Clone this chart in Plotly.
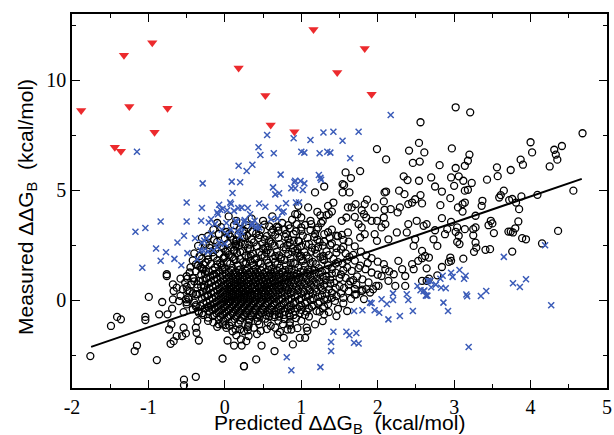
import plotly.graph_objects as go

# ---------------- data ----------------
# red down-triangles
tri_x = [-1.88, -1.32, -1.25, -0.95, -0.75, -0.92, -1.44, -1.36, 0.18, 0.53,
         0.60, 0.91, 1.16, 1.83, 1.47, 1.92]
tri_y = [8.61, 11.12, 8.79, 11.69, 8.72, 7.62, 6.94, 6.76, 10.54, 9.29,
         7.96, 7.65, 12.29, 11.43, 10.34, 9.35]

# blue crosses (x, y)
crosses = [
    (-1.15, 6.74), (-0.29, 5.30), (-0.50, 4.43), (-0.30, 4.18), (-0.075, 4.33), (0.09, 5.38),
    (0.20, 5.35), (0.10, 4.86), (0.18, 6.10), (0.285, 5.86), (0.36, 6.15), (0.44, 6.94),
    (0.465, 6.59), (0.553, 7.50), (0.64, 6.67), (0.73, 5.70), (0.63, 5.12), (0.66, 4.80),
    (0.71, 4.85), (0.90, 7.35), (1.00, 6.74), (1.12, 7.27), (0.87, 5.08), (0.91, 5.35),
    (0.99, 5.41), (1.02, 5.00), (1.23, 5.68), (1.24, 6.67), (0.30, 4.18), (0.45, 4.39),
    (0.53, 4.24), (0.80, 4.40), (0.70, 4.18), (0.12, 4.05), (0.07, 4.43), (-0.03, 4.15),
    (1.29, 7.61), (1.34, 6.74), (1.38, 6.70), (1.26, 5.47), (0.92, 5.08), (0.92, 5.42),
    (-0.50, 3.57), (-0.84, 3.57), (-1.04, 3.27), (-0.31, 3.60), (-0.18, 3.67), (-0.06, 4.10),
    (-0.09, 3.90), (0.03, 4.08), (0.175, 4.18), (0.14, 3.60), (0.33, 3.90), (0.39, 3.60),
    (0.35, 3.40), (0.41, 3.30), (0.605, 3.67), (0.69, 3.70), (0.77, 4.02), (0.97, 4.43),
    (0.02, 3.50), (-0.04, 3.20), (-1.17, 3.10), (-0.62, 2.61), (-0.535, 2.92), (-0.90, 2.34),
    (-0.77, 2.17), (-0.84, 1.78), (-0.66, 1.87), (-1.08, 1.47), (-0.49, 2.13), (-0.39, 2.81),
    (-0.32, 2.26), (-0.30, 2.60), (-0.27, 2.70), (-0.24, 2.80), (-0.18, 3.02), (-0.21, 3.52),
    (-0.13, 3.45), (-0.10, 3.98), (0.08, 4.36), (0.15, 3.55), (-0.36, 1.85), (-0.57, 1.58),
    (-0.28, 2.25), (-0.22, 2.20), (-0.15, 2.25), (-0.10, 2.40), (-0.075, 2.61), (0.00, 2.55),
    (0.03, 3.00), (0.08, 3.20), (0.17, 3.10), (0.21, 3.30), (0.25, 3.55), (0.22, 4.20),
    (0.26, 3.63), (0.36, 3.50), (0.45, 3.30), (0.75, 3.98), (0.22, 3.10), (0.20, 2.90),
    (0.93, 4.43),
    (1.42, -1.44), (1.59, -1.44), (1.63, -1.60), (1.72, -1.50), (1.39, -1.91), (1.69, -1.94),
    (1.75, -1.98), (1.39, -2.32), (0.81, -2.60), (0.87, -3.19), (1.25, -3.05), (1.69, -0.50),
    (1.80, -0.47), (1.90, -0.12), (1.92, -0.15), (1.96, -0.47), (2.02, -0.58), (2.05, 0.03),
    (2.12, -0.18), (2.14, -0.88), (2.20, 0.00), (2.29, -0.73), (2.38, 0.26), (2.40, 0.00),
    (2.46, -0.50), (2.52, 0.64), (2.56, 0.44), (2.61, 0.43), (2.65, 0.20), (2.70, 0.58),
    (2.20, 0.30), (4.19, 2.49), (3.65, 1.96), (2.66, 0.87), (2.69, 0.86), (2.76, 0.70),
    (2.60, 0.40), (2.63, 0.20), (2.82, 0.97), (2.85, 1.10), (2.96, 1.24), (2.98, 1.05),
    (3.07, 1.36), (3.13, 0.97), (3.15, 1.10), (2.83, 0.56), (2.89, 0.53), (2.86, -0.12),
    (2.92, -0.50), (3.16, 0.25), (3.17, 0.17), (3.35, 0.18), (3.42, 0.41), (3.77, 0.76),
    (3.86, 0.59), (3.94, 0.94), (4.27, -0.24), (3.19, -2.14),
    (2.17, 8.41), (1.42, 7.65), (1.75, 7.65), (1.54, 7.24), (1.64, 6.44), (1.04, 6.70),
    (1.25, 5.55), (1.04, 5.30),
]

# black open circles, scattered ones (x, y)
circles_outer = [
    (3.02, 8.76), (3.21, 8.53), (2.56, 8.08), (4.68, 7.58), (4.00, 7.17), (4.02, 6.71),
    (4.31, 6.83), (4.33, 6.61), (4.35, 6.38), (4.41, 7.00), (4.25, 6.07), (1.99, 6.86),
    (2.11, 6.39), (2.41, 6.79), (2.54, 7.14), (2.61, 6.71), (2.46, 6.23), (2.55, 6.29),
    (2.97, 6.89), (3.02, 6.00), (2.81, 6.13), (3.20, 6.61), (3.18, 6.33), (3.14, 6.10),
    (3.56, 6.03), (3.57, 5.63), (3.74, 5.91), (3.87, 6.38), (3.90, 6.15), (4.56, 4.97),
    (4.09, 4.78), (3.65, 4.97), (3.61, 4.77), (3.59, 4.66), (3.72, 4.54), (3.81, 4.43),
    (3.88, 4.71), (3.43, 5.47), (3.37, 4.51), (3.36, 4.28), (1.18, 4.89), (1.30, 5.16),
    (1.54, 5.27), (1.56, 5.22), (1.65, 5.54), (1.58, 5.80), (1.54, 4.89), (1.63, 4.89),
    (1.77, 5.86), (1.86, 4.56), (1.83, 4.36), (2.09, 4.89), (2.11, 4.93), (2.08, 4.48),
    (2.28, 4.97), (2.34, 5.62), (2.39, 5.45), (2.35, 4.81), (2.54, 5.42), (2.56, 4.77),
    (2.49, 4.58), (2.45, 4.43), (2.40, 4.36), (2.70, 5.57), (2.75, 5.16), (2.84, 4.93),
    (2.96, 5.57), (3.06, 5.62), (3.00, 5.19), (3.12, 5.42), (3.14, 4.97), (3.18, 5.01),
    (3.23, 5.32), (2.95, 4.63), (3.14, 4.43), (3.11, 4.36), (2.82, 4.31), (1.09, 4.21),
    (1.35, 4.28), (1.42, 4.43), (1.61, 4.21), (1.66, 4.21), (1.71, 4.36), (1.96, 4.21),
    (2.09, 4.10),
    (3.11, 4.02), (2.84, 3.72), (2.96, 3.55), (3.04, 3.30), (3.02, 3.10), (3.06, 2.92),
    (3.04, 2.64), (3.07, 2.54), (3.14, 3.22), (3.28, 3.83), (3.25, 3.22), (3.28, 3.30),
    (3.25, 2.94), (3.28, 2.61), (3.29, 2.38), (3.26, 2.19), (3.41, 2.28), (3.47, 2.31),
    (3.45, 3.40), (3.48, 3.60), (3.50, 3.48), (3.52, 3.04), (3.71, 3.11), (3.74, 3.11),
    (3.77, 3.07), (3.84, 3.57), (3.80, 3.26), (3.89, 2.81), (3.94, 2.76), (3.76, 2.20),
    (4.15, 2.57), (4.36, 3.14), (2.91, 3.22), (2.88, 2.99), (2.75, 3.17), (2.78, 2.46),
    (2.73, 2.76), (2.60, 3.37), (2.58, 2.23), (2.62, 2.00), (2.67, 1.93), (2.58, 1.90),
    (2.95, 1.93), (2.96, 1.78), (2.93, 1.73), (3.12, 1.88), (2.84, 1.50), (2.64, 1.44),
    (2.78, 1.12), (2.67, 0.97), (2.58, 0.87), (3.76, 4.59), (3.85, 4.13), (3.05, 4.21),
    (1.21, 4.01), (1.33, 3.86), (1.36, 3.90), (1.40, 4.02), (1.28, 3.60), (1.79, 4.08),
    (1.82, 3.90), (2.26, 3.98), (2.08, 3.75), (2.10, 3.45), (2.05, 3.30), (1.99, 3.60),
    (1.92, 3.60), (1.85, 3.75), (1.75, 3.45), (1.70, 3.78), (1.59, 3.75), (1.53, 3.60),
    (1.61, 3.07), (1.53, 2.96), (1.46, 2.92), (1.79, 3.30), (1.83, 2.99), (1.77, 2.84),
    (1.96, 2.99), (1.99, 2.69), (2.14, 2.76), (2.25, 3.07), (2.38, 3.07), (2.40, 3.45),
    (2.51, 3.60), (2.64, 3.45), (2.49, 2.76), (2.47, 2.46), (2.53, 1.78), (2.45, 1.63),
    (2.47, 1.40), (2.64, 0.87), (2.36, 1.09), (2.32, 1.40), (2.27, 1.78), (2.36, 0.64),
    (2.23, 0.64), (2.14, 0.87), (2.21, 1.17), (2.10, 1.40), (2.05, 1.09), (2.01, 0.64),
    (1.94, 0.49), (1.85, 0.49), (1.79, 0.41), (1.72, 0.26), (1.60, -0.50), (1.46, -0.73),
    (1.30, -0.65), (1.28, -0.96), (1.18, -1.11), (1.07, -1.26), (1.05, -1.72), (0.87, -1.34),
    (0.89, -2.02), (0.77, -1.72), (0.69, -1.57), (0.65, -2.32), (0.48, -2.07), (0.41, -2.70),
    (0.25, -3.01), (0.98, -1.72), (0.28, -1.87), (2.58, 4.39), (2.29, 4.21), (2.17, 4.13),
    (-1.76, -2.55), (-1.49, -1.18), (-1.41, -0.77), (-1.36, -0.88), (-1.18, -2.32),
    (-1.15, -2.07), (-1.04, -0.77), (-1.04, -0.91), (-0.995, 0.14), (-0.89, -2.73),
    (-0.86, -0.65), (-0.82, -0.09), (-0.75, -0.65), (-0.73, -1.34), (-0.70, -1.11),
    (-0.71, -1.99), (-0.67, -1.87), (-0.63, -1.64), (-0.69, -0.39), (-0.68, 0.03),
    (-0.67, 0.41), (-0.63, 0.56), (-0.68, 0.71), (-0.76, 1.17), (-0.76, 1.09), (-0.58, 0.97),
    (-0.49, 0.97), (-0.49, 0.44), (-0.51, 0.03), (-0.47, 0.03), (-0.54, -0.55), (-0.54, -1.26),
    (-0.51, -1.52), (-0.56, -1.64), (-0.535, -3.62), (-0.535, -3.87), (-0.38, -3.49),
    (-0.34, -1.84), (-0.37, -1.49), (-0.38, -1.26), (-0.36, -0.96), (-0.34, -0.58),
    (-0.38, -0.23), (-0.36, 0.26), (-0.36, 0.71), (-0.41, 0.99), (-0.32, 1.50), (-0.28, 1.62),
    (-0.25, 1.32), (-0.24, 0.99), (-0.27, 0.56), (-0.23, 0.18), (-0.21, -0.35), (-0.16, -0.73),
    (0.035, -1.84), (-0.03, -2.66), (0.12, -2.07), (0.22, -2.07), (0.25, -3.01), (-0.03, -1.11),
    (0.01, -1.14), (0.14, -1.34), (0.25, -1.41), (-0.01, 1.93), (0.035, 2.23), (0.12, 2.23),
    (0.145, 2.54), (0.21, 2.61), (-0.10, 1.62), (-0.03, 1.47), (-0.14, 1.17), (0.255, 2.84),
    (0.30, -1.38), (0.31, -1.64), (0.21, -1.79), (0.82, -1.34), (1.08, -1.40),
    (0.96, 4.28), (0.92, 3.90), (1.00, 3.75), (1.13, 3.45), (1.26, 3.50), (0.70, 3.30),
    (0.83, 3.40), (0.94, 3.45), (0.35, 3.70), (0.50, 3.60), (0.62, 3.80), (0.75, 3.50),
    (0.88, 3.65), (1.00, 3.30), (1.12, 3.60), (1.20, 3.20), (0.28, 3.40), (0.42, 3.30),
    (0.58, 3.35), (0.70, 3.15), (0.95, 3.90), (1.25, 3.85), (0.15, 3.60), (0.05, 3.80),
    (-0.10, 3.50),
]

# black open circles, crowded halo round the centre (x, y)
circles_halo = [
    (-0.05, 3.31), (0.12, 3.40), (0.30, 3.28), (0.52, 3.43), (0.68, 3.33), (0.85, 3.26), (1.05, 3.41), (1.22, 3.30),
    (-0.15, 3.20), (0.02, 3.09), (0.20, 3.22), (0.36, 3.11), (0.47, 3.19), (0.61, 3.07), (0.78, 3.21), (0.93, 3.12),
    (1.12, 3.18), (1.35, 3.08),
    (-0.22, 2.91), (-0.08, 3.00), (0.07, 2.88), (0.18, 2.99), (0.29, 2.92), (0.41, 3.02), (0.55, 2.90), (0.66, 2.97),
    (0.79, 2.87), (0.90, 3.00), (1.02, 2.93), (1.17, 2.86), (1.30, 2.99), (1.48, 2.90),
    (-0.30, 2.82), (-0.14, 2.72), (0.00, 2.80), (0.11, 2.74), (0.23, 2.84), (0.35, 2.75), (0.44, 2.81), (0.58, 2.71),
    (0.70, 2.83), (0.83, 2.76), (0.96, 2.70), (1.08, 2.82), (1.21, 2.75), (1.37, 2.84), (1.55, 2.73),
    (-0.25, 2.55), (-0.10, 2.64), (0.04, 2.57), (0.15, 2.66), (0.26, 2.53), (0.38, 2.62), (0.49, 2.56), (0.60, 2.65),
    (0.72, 2.54), (0.85, 2.61), (0.97, 2.67), (1.10, 2.55), (1.24, 2.63), (1.40, 2.57), (1.62, 2.65),
    (-0.35, 2.46), (-0.20, 2.37), (-0.05, 2.45), (0.08, 2.39), (0.19, 2.48), (0.30, 2.36), (0.42, 2.44), (0.53, 2.38),
    (0.65, 2.47), (0.77, 2.40), (0.89, 2.35), (1.00, 2.45), (1.14, 2.38), (1.28, 2.47), (1.46, 2.36), (1.70, 2.44),
    (-0.28, 2.21), (-0.12, 2.30), (0.01, 2.20), (0.12, 2.28), (0.23, 2.22), (0.33, 2.31), (0.45, 2.19), (0.56, 2.27),
    (0.68, 2.20), (0.80, 2.30), (0.92, 2.24), (1.04, 2.18), (1.18, 2.29), (1.33, 2.21), (1.52, 2.30), (1.78, 2.20),
    (-0.40, 2.12), (-0.22, 2.03), (-0.07, 2.11), (0.05, 2.04), (0.16, 2.13), (0.27, 2.02), (0.37, 2.10), (0.48, 2.05),
    (0.60, 2.14), (0.71, 2.03), (0.83, 2.09), (0.95, 2.13), (1.07, 2.02), (1.20, 2.11), (1.36, 2.04), (1.58, 2.12),
    (1.85, 2.03),
    (-0.30, 1.88), (-0.15, 1.97), (-0.02, 1.89), (0.10, 1.95), (0.20, 1.87), (0.31, 1.96), (0.41, 1.90), (0.52, 1.98),
    (0.63, 1.87), (0.74, 1.94), (0.86, 1.89), (0.98, 1.97), (1.10, 1.88), (1.25, 1.95), (1.42, 1.87), (1.63, 1.96),
    (1.92, 1.90),
    (-0.42, 1.80), (-0.25, 1.71), (-0.10, 1.79), (0.03, 1.73), (0.14, 1.81), (0.24, 1.72), (0.34, 1.78), (0.44, 1.70),
    (0.55, 1.80), (0.66, 1.74), (0.78, 1.82), (0.90, 1.71), (1.02, 1.78), (1.15, 1.73), (1.30, 1.81), (1.48, 1.72),
    (1.70, 1.79), (2.00, 1.74),
    (-0.35, 1.56), (-0.18, 1.64), (-0.04, 1.57), (0.07, 1.65), (0.17, 1.55), (0.27, 1.63), (0.37, 1.58), (0.47, 1.66),
    (0.58, 1.56), (0.69, 1.62), (0.80, 1.57), (0.92, 1.65), (1.05, 1.55), (1.19, 1.63), (1.35, 1.58), (1.54, 1.66),
    (1.77, 1.56), (2.08, 1.63),
    (-0.45, 1.48), (-0.28, 1.40), (-0.13, 1.47), (0.00, 1.41), (0.10, 1.46), (0.20, 1.39), (0.30, 1.45), (0.40, 1.42),
    (0.50, 1.48), (0.61, 1.40), (0.72, 1.46), (0.84, 1.41), (0.96, 1.47), (1.09, 1.39), (1.23, 1.45), (1.40, 1.41),
    (1.60, 1.48), (1.84, 1.40),
    (-0.38, 1.31), (1.45, 1.24), (1.66, 1.32), (1.92, 1.25), (2.15, 1.30),
    (-0.50, 1.08), (-0.31, 1.16), (1.33, 1.09), (1.52, 1.16), (1.73, 1.07), (2.00, 1.15),
    (-0.42, 1.00), (1.38, 0.93), (1.58, 1.01), (1.80, 0.94),
    (-0.52, 0.79), (-0.34, 0.86), (1.43, 0.78), (1.64, 0.85), (1.88, 0.80),
    (-0.44, 0.71), (1.50, 0.63), (1.72, 0.70), (1.98, 0.64),
    (-0.55, 0.49), (-0.36, 0.56), (1.36, 0.48), (1.56, 0.55), (1.80, 0.47),
    (-0.46, 0.41), (1.40, 0.33), (1.62, 0.40), (1.90, 0.34),
    (-0.58, 0.19), (-0.38, 0.26), (1.46, 0.18), (1.70, 0.25),
    (-0.48, 0.11), (1.34, 0.03), (1.55, 0.10), (1.82, 0.04),
    (-0.60, -0.05), (-0.40, -0.12), (1.44, -0.04),
    (-0.50, -0.20), (-0.32, -0.27), (1.35, -0.19),
    (-0.42, -0.42), (-0.35, -0.50),
    (-0.22, -0.80), (-0.08, -0.88), (0.03, -0.79), (0.13, -0.86), (0.22, -0.81), (0.32, -0.89), (0.42, -0.80),
    (0.53, -0.85), (0.65, -0.78), (0.78, -0.87), (0.93, -0.82),
    (-0.15, -1.02), (-0.02, -0.94), (0.09, -1.00), (0.20, -0.93), (0.31, -1.03), (0.43, -0.96), (0.56, -1.01),
    (0.70, -0.94), (0.85, -1.00),
    (-0.08, -1.10), (0.06, -1.17), (0.18, -1.09), (0.31, -1.16), (0.45, -1.11), (0.60, -1.18), (0.76, -1.10),
    (0.02, -1.27), (0.20, -1.33), (0.38, -1.26), (0.55, -1.32),
    # second layer of the halo
    (-0.20, 2.50), (-0.02, 2.35), (0.14, 2.47), (0.32, 2.52), (0.50, 2.33), (0.62, 2.56), (0.82, 2.50),
    (0.95, 2.32), (1.06, 2.52), (1.22, 2.40), (1.38, 2.50), (1.55, 2.42),
    (-0.33, 2.00), (-0.16, 2.17), (0.00, 1.98), (0.20, 2.18), (0.34, 2.02), (0.54, 2.16), (0.66, 1.99),
    (0.88, 2.19), (1.00, 2.00), (1.13, 2.20), (1.29, 2.00), (1.46, 2.15), (1.68, 2.05),
    (-0.38, 1.62), (-0.22, 1.84), (-0.06, 1.68), (0.12, 1.86), (0.28, 1.70), (0.39, 1.85), (0.57, 1.69),
    (0.73, 1.86), (0.86, 1.68), (1.00, 1.85), (1.12, 1.67), (1.28, 1.86), (1.45, 1.66), (1.60, 1.82), (1.87, 1.68),
    (-0.30, 1.42), (-0.46, 1.25), (1.55, 1.35), (1.75, 1.45), (1.50, 1.00), (1.68, 0.90), (1.62, 0.70),
    (1.45, 0.55), (1.70, 0.50), (1.52, 0.30), (1.65, 0.05), (1.40, 0.10), (1.55, -0.15), (1.30, -0.30),
    (1.48, -0.40), (1.20, -0.50), (1.36, -0.55),
    (-0.40, 0.85), (-0.50, 0.60), (-0.42, 0.30), (-0.50, -0.10), (-0.38, -0.30), (-0.30, -0.60), (-0.22, -0.95),
    (-0.10, -1.22), (0.10, -1.42), (0.30, -1.23), (0.47, -1.40), (0.66, -1.26), (0.85, -1.15), (1.00, -0.95),
    (1.10, -0.75), (0.95, -1.28), (0.72, -1.45), (0.15, -1.60), (0.42, -1.55),
    (0.05, 3.00), (0.25, 3.15), (0.45, 2.95), (0.63, 3.20), (0.80, 3.00), (1.00, 3.15), (1.18, 3.00),
    (1.40, 3.20), (0.15, 2.70), (0.52, 2.75), (0.90, 2.70), (1.30, 2.65),
]

# black open circles, solid-black centre: one y level per row with the x values in that row
dense_y = [1.36, 1.28, 1.20, 1.12, 1.05, 0.97, 0.90, 0.82, 0.75, 0.67, 0.60, 0.52, 0.45,
           0.37, 0.30, 0.22, 0.15, 0.07, 0.00, -0.08, -0.15, -0.23, -0.30, -0.38, -0.45,
           -0.53, -0.60, -0.68, -0.75]
dense_x = [
    [-0.16, -0.03, 0.08, 0.18, 0.27, 0.37, 0.47, 0.57, 0.68, 0.79, 0.91, 1.03, 1.17, 1.33],
    [-0.21, -0.07, 0.05, 0.14, 0.23, 0.33, 0.43, 0.53, 0.64, 0.75, 0.87, 0.99, 1.12, 1.27],
    [-0.26, -0.11, 0.01, 0.11, 0.20, 0.30, 0.40, 0.50, 0.60, 0.71, 0.82, 0.94, 1.08, 1.23, 1.40],
    [-0.16, -0.03, 0.08, 0.17, 0.26, 0.36, 0.46, 0.56, 0.67, 0.78, 0.90, 1.03, 1.17],
    [-0.19, -0.06, 0.05, 0.14, 0.23, 0.32, 0.42, 0.52, 0.62, 0.73, 0.85, 0.98, 1.12, 1.28],
    [-0.24, -0.10, 0.02, 0.11, 0.20, 0.29, 0.38, 0.48, 0.58, 0.69, 0.80, 0.93, 1.06, 1.21],
    [-0.29, -0.14, -0.02, 0.08, 0.17, 0.25, 0.34, 0.44, 0.54, 0.64, 0.75, 0.87, 1.00, 1.15, 1.32],
    [-0.18, -0.05, 0.06, 0.14, 0.22, 0.31, 0.40, 0.50, 0.60, 0.71, 0.83, 0.96, 1.10, 1.25],
    [-0.21, -0.08, 0.03, 0.12, 0.20, 0.28, 0.37, 0.46, 0.56, 0.66, 0.78, 0.90, 1.04, 1.20, 1.38],
    [-0.27, -0.12, -0.01, 0.09, 0.17, 0.25, 0.34, 0.43, 0.52, 0.62, 0.73, 0.85, 0.98, 1.13, 1.30],
    [-0.31, -0.16, -0.04, 0.06, 0.14, 0.22, 0.30, 0.39, 0.48, 0.58, 0.69, 0.80, 0.93, 1.08, 1.25],
    [-0.20, -0.07, 0.03, 0.11, 0.19, 0.27, 0.36, 0.45, 0.54, 0.64, 0.75, 0.88, 1.02, 1.18],
    [-0.24, -0.10, 0.00, 0.08, 0.16, 0.24, 0.32, 0.41, 0.50, 0.60, 0.71, 0.83, 0.96, 1.11, 1.28],
    [-0.29, -0.14, -0.03, 0.06, 0.14, 0.22, 0.30, 0.39, 0.48, 0.57, 0.67, 0.78, 0.90, 1.04, 1.20],
    [-0.33, -0.18, -0.06, 0.03, 0.11, 0.19, 0.27, 0.35, 0.44, 0.53, 0.63, 0.74, 0.86, 1.00, 1.15, 1.33],
    [-0.22, -0.09, 0.01, 0.09, 0.17, 0.25, 0.33, 0.42, 0.51, 0.60, 0.70, 0.82, 0.95, 1.10, 1.27],
    [-0.26, -0.12, -0.02, 0.06, 0.14, 0.22, 0.30, 0.39, 0.48, 0.57, 0.67, 0.79, 0.92, 1.06, 1.22],
    [-0.30, -0.16, -0.05, 0.04, 0.12, 0.20, 0.28, 0.36, 0.45, 0.54, 0.64, 0.75, 0.87, 1.00, 1.16],
    [-0.20, -0.08, 0.01, 0.09, 0.17, 0.25, 0.33, 0.41, 0.50, 0.60, 0.71, 0.83, 0.97, 1.12, 1.30],
    [-0.24, -0.11, -0.01, 0.07, 0.15, 0.23, 0.31, 0.39, 0.48, 0.57, 0.67, 0.79, 0.92, 1.07, 1.24],
    [-0.28, -0.14, -0.04, 0.05, 0.13, 0.21, 0.29, 0.37, 0.46, 0.55, 0.65, 0.77, 0.90, 1.05, 1.22],
    [-0.18, -0.06, 0.03, 0.11, 0.19, 0.27, 0.35, 0.44, 0.53, 0.63, 0.74, 0.86, 1.00, 1.16],
    [-0.22, -0.10, 0.00, 0.09, 0.17, 0.25, 0.33, 0.42, 0.51, 0.61, 0.72, 0.84, 0.98, 1.14],
    [-0.26, -0.13, -0.02, 0.07, 0.15, 0.23, 0.31, 0.40, 0.49, 0.59, 0.70, 0.82, 0.95, 1.10, 1.28],
    [-0.16, -0.05, 0.05, 0.14, 0.22, 0.31, 0.40, 0.50, 0.61, 0.73, 0.86, 1.00],
    [-0.20, -0.08, 0.02, 0.11, 0.19, 0.28, 0.37, 0.46, 0.56, 0.67, 0.79, 0.92, 1.07, 1.24],
    [-0.11, 0.00, 0.10, 0.19, 0.28, 0.38, 0.48, 0.59, 0.71, 0.84, 0.98],
    [-0.28, -0.14, -0.03, 0.07, 0.16, 0.25, 0.34, 0.44, 0.54, 0.65, 0.77, 0.90, 1.05],
    [-0.06, 0.05, 0.15, 0.25, 0.35, 0.46, 0.58, 0.71, 0.85],
]

# regression line
fit_slope = 1.19
fit_intercept = -0.05
fit_xmin, fit_xmax = -1.75, 4.67

x_ticks = [-2, -1, 0, 1, 2, 3, 4, 5]
y_ticks = [0, 5, 10]

x_title = "Predicted \u0394\u0394G<sub>B</sub>\u00a0 (kcal/mol)"
y_title = "Measured \u0394\u0394G<sub>B</sub>\u00a0 (kcal/mol)"

# ---------------- build ----------------
circ_x = [p[0] for p in circles_outer + circles_halo]
circ_y = [p[1] for p in circles_outer + circles_halo]
for yv, row in zip(dense_y, dense_x):
    for xv in row:
        circ_x.append(xv)
        circ_y.append(yv)

cross_x = [p[0] for p in crosses]
cross_y = [p[1] for p in crosses]

fit_x = [fit_xmin, fit_xmax]
fit_y = [fit_slope * v + fit_intercept for v in fit_x]

BLUE = "#3a5bb8"
RED = "#ec2a2d"

fig = go.Figure()
fig.add_trace(go.Scatter(
    x=circ_x, y=circ_y, mode="markers",
    marker=dict(symbol="circle-open", size=7, color="black", line=dict(width=1.3, color="black")),
    hoverinfo="skip", showlegend=False))
fig.add_trace(go.Scatter(
    x=cross_x, y=cross_y, mode="markers",
    marker=dict(symbol="x-thin", size=6, color=BLUE, line=dict(width=1.5, color=BLUE)),
    showlegend=False))
fig.add_trace(go.Scatter(
    x=tri_x, y=tri_y, mode="markers",
    marker=dict(symbol="triangle-down", size=9, color=RED, line=dict(width=0)),
    showlegend=False))
fig.add_trace(go.Scatter(
    x=fit_x, y=fit_y, mode="lines",
    line=dict(color="black", width=2), showlegend=False))

axis_common = dict(
    showgrid=False, zeroline=False, showline=True, linecolor="black", linewidth=1.5,
    mirror="allticks", ticks="inside", ticklen=8, tickwidth=1.3, tickcolor="black",
    tickfont=dict(family="Liberation Serif", size=20, color="black"),
    automargin=False,
)

title_font = dict(family="Liberation Sans", size=21, color="black")

fig.update_layout(
    width=614, height=435,
    margin=dict(l=72, r=7, t=14, b=47),
    plot_bgcolor="white", paper_bgcolor="white",
    xaxis=dict(
        range=[-2, 5], tickvals=x_ticks, ticktext=[str(v) for v in x_ticks],
        minor=dict(ticks="inside", ticklen=4, tickwidth=1.3, tickcolor="black", dtick=0.5, tick0=0),
        **axis_common),
    yaxis=dict(
        range=[-4, 13], tickvals=y_ticks, ticktext=[str(v) for v in y_ticks],
        minor=dict(ticks="inside", ticklen=4, tickwidth=1.3, tickcolor="black", dtick=2.5, tick0=0),
        **axis_common),
    annotations=[
        dict(text=x_title, xref="paper", yref="paper", x=0.5, y=0, xanchor="center",
             yanchor="middle", yshift=-36, showarrow=False, font=title_font),
        dict(text=y_title, xref="paper", yref="paper", x=0, y=0.5, xanchor="center",
             yanchor="middle", xshift=-45, yshift=-6, textangle=-90, showarrow=False,
             font=title_font),
    ],
)

# the page's default body margin would shift the figure by 8px; remove it
fig.write_html("out.html", config={"displayModeBar": False},
               post_script="document.body.style.margin='0px';")
